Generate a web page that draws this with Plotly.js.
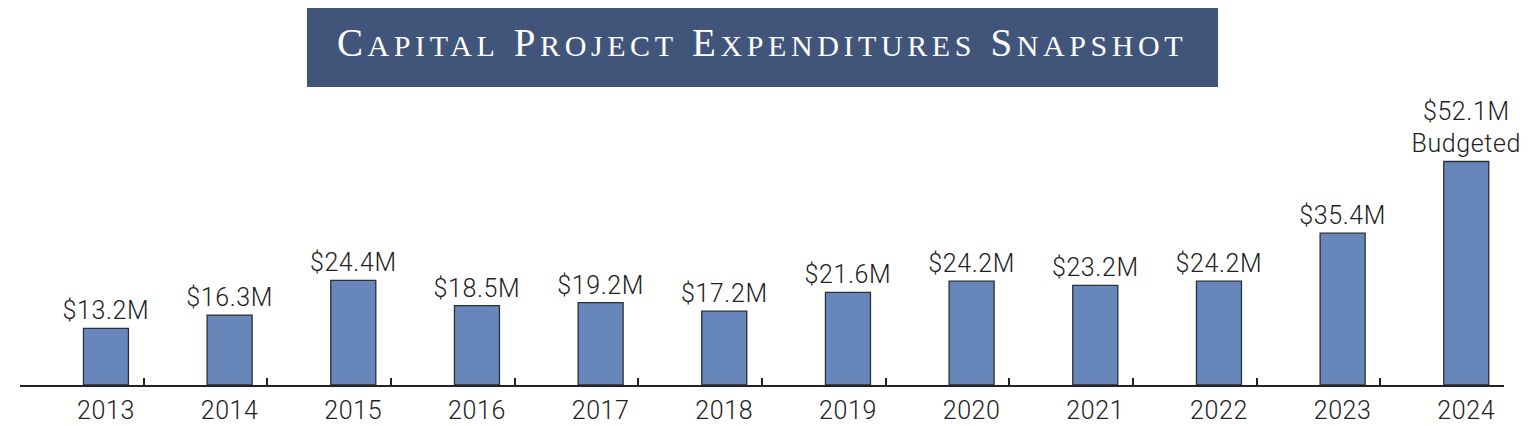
<!DOCTYPE html>
<html>
<head>
<meta charset="utf-8">
<script src="https://cdn.plot.ly/plotly-3.0.1.min.js"></script>
<style>
html,body{margin:0;padding:0;background:#fff;}
#chart{width:1532px;height:426px;}
#chart .annotation-text{letter-spacing:4.6px;}
#chart .bartext, #chart .xtick text{letter-spacing:0.6px;}
</style>
</head>
<body>
<div id="chart"></div>
<script>
// Data
const years = ["2013","2014","2015","2016","2017","2018","2019","2020","2021","2022","2023","2024"];
const expenditures = [13.2, 16.3, 24.4, 18.5, 19.2, 17.2, 21.6, 24.2, 23.2, 24.2, 35.4, 52.1];
const notes = ["","","","","","","","","","","","Budgeted"];
const chartTitle = "Capital Project Expenditures Snapshot";

const idx = years.map((_, i) => i);
const labels = expenditures.map((v, i) => "$" + v.toFixed(1) + "M" + (notes[i] ? "<br>" + notes[i] : ""));

// small-caps look: initial letter full size, rest smaller, all shown upper case
const titleHtml = chartTitle.split(" ").map(w =>
  w[0] + "<span style='font-size:30px'>" + w.slice(1) + "</span>").join(" ");

// category boundaries (tick marks) are offset from the centres
const tickOffset = -0.695;
const boundaries = years.map((_, i) => i + tickOffset).concat([years.length + tickOffset]);
const xRange = [tickOffset, years.length + tickOffset];

const labelFont = {family: "Roboto, Liberation Sans, Arial, sans-serif", size: 25, color: "#222", weight: 300};

const trace = {
  type: "bar",
  x: idx,
  y: expenditures,
  width: 0.364,
  marker: {color: "#6787ba", line: {color: "#2b2f38", width: 1.3}},
  text: labels,
  textposition: "outside",
  textfont: labelFont,
  constraintext: "none",
  cliponaxis: false,
  hoverinfo: "skip"
};

const tickTrace = {
  type: "scatter", mode: "none", x: [xRange[0], xRange[1]], y: [0, 0],
  xaxis: "x2", yaxis: "y", hoverinfo: "skip", showlegend: false
};

const layout = {
  width: 1532, height: 426,
  margin: {l: 20, r: 28, t: 95, b: 41},
  paper_bgcolor: "#fff", plot_bgcolor: "#fff",
  showlegend: false,
  bargap: 0,
  xaxis: {
    range: xRange, tickmode: "array", tickvals: idx, ticktext: years,
    ticks: "", showgrid: false, zeroline: false,
    showline: true, linecolor: "#222", linewidth: 2.2,
    tickfont: labelFont, ticklabelstandoff: 2, fixedrange: true
  },
  xaxis2: {
    overlaying: "x", anchor: "y", side: "bottom",
    range: xRange, tickmode: "array", tickvals: boundaries,
    ticks: "inside", ticklen: 7, tickwidth: 2, tickcolor: "#222",
    showticklabels: false, showgrid: false, zeroline: false, showline: false, fixedrange: true
  },
  yaxis: {range: [0, 67.6], visible: false, fixedrange: true},
  shapes: [{
    type: "rect", xref: "paper", yref: "paper",
    x0: 0.1934, x1: 0.8073, y0: 1.0276, y1: 1.3,
    fillcolor: "#41557a", line: {width: 0}, layer: "below"
  }],
  annotations: [{
    xref: "paper", yref: "paper", x: 0.5003, y: 1.181,
    xanchor: "center", yanchor: "middle",
    text: titleHtml, showarrow: false,
    font: {family: "Liberation Serif, Times New Roman, serif", size: 39, color: "#fff", textcase: "upper"}
  }]
};

Plotly.newPlot("chart", [trace, tickTrace], layout, {staticPlot: true, displayModeBar: false});
</script>
</body>
</html>
